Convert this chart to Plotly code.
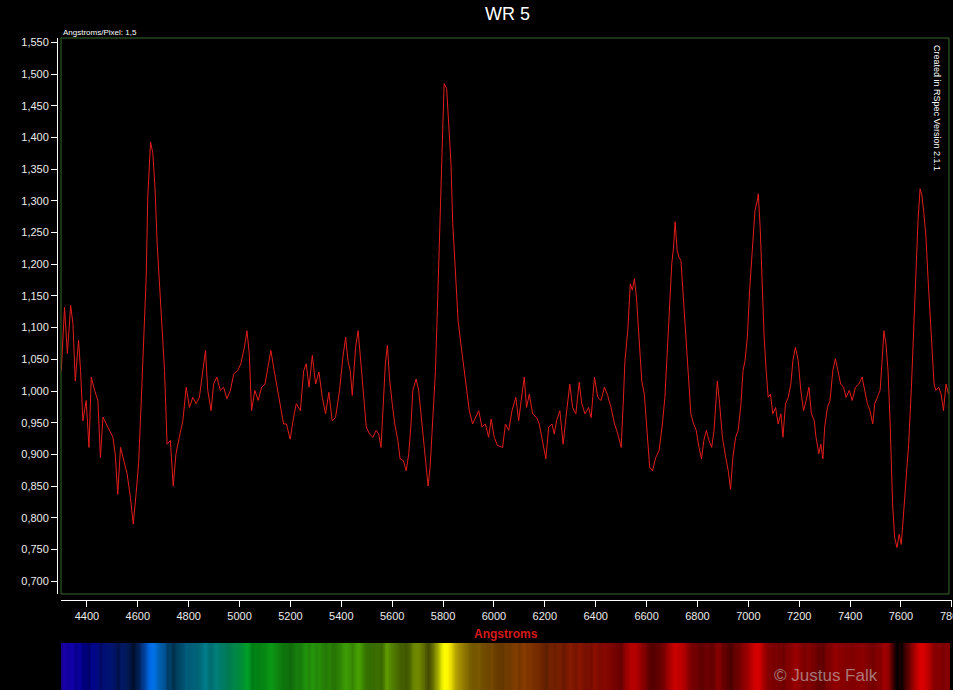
import numpy as np
import plotly.graph_objects as go

# WR 5 spectrum (wavelength in Angstrom, relative flux)
wavelength = [
    4299, 4312, 4323, 4336, 4345, 4354, 4367, 4375, 4384, 4397, 4408, 4417, 4430, 4443, 4453, 4463,
    4476, 4489, 4502, 4511, 4521, 4532, 4545, 4558, 4571, 4582, 4593, 4603, 4613, 4623, 4633, 4639,
    4650, 4659, 4668, 4676, 4685, 4694, 4705, 4715, 4728, 4739, 4750, 4763, 4777, 4790, 4803, 4816,
    4829, 4842, 4855, 4866, 4875, 4888, 4898, 4911, 4924, 4937, 4950, 4964, 4977, 4992, 5005, 5019,
    5029, 5038, 5047, 5060, 5073, 5087, 5100, 5113, 5123, 5136, 5149, 5160, 5173, 5184, 5199, 5212,
    5223, 5239, 5252, 5262, 5273, 5286, 5299, 5312, 5325, 5338, 5351, 5364, 5377, 5393, 5406, 5417,
    5426, 5435, 5443, 5456, 5466, 5477, 5487, 5498, 5511, 5524, 5537, 5547, 5556, 5566, 5573, 5581,
    5589, 5600, 5610, 5622, 5631, 5644, 5655, 5665, 5674, 5681, 5694, 5704, 5713, 5723, 5730, 5741,
    5749, 5759, 5770, 5779, 5788, 5796, 5804, 5814, 5822, 5831, 5838, 5848, 5859, 5870, 5883, 5893,
    5903, 5916, 5929, 5940, 5953, 5966, 5979, 5989, 6001, 6014, 6034, 6045, 6058, 6071, 6086, 6097,
    6107, 6119, 6128, 6139, 6152, 6168, 6178, 6191, 6204, 6215, 6228, 6237, 6246, 6259, 6272, 6283,
    6298, 6309, 6322, 6335, 6345, 6358, 6372, 6382, 6395, 6408, 6421, 6434, 6447, 6460, 6474, 6487,
    6500, 6508, 6515, 6526, 6536, 6544, 6552, 6560, 6570, 6581, 6591, 6602, 6612, 6623, 6636, 6649,
    6662, 6672, 6682, 6691, 6699, 6706, 6712, 6720, 6727, 6735, 6743, 6751, 6759, 6767, 6774, 6785,
    6795, 6806, 6816, 6825, 6835, 6845, 6856, 6865, 6878, 6887, 6898, 6911, 6921, 6930, 6939, 6950,
    6960, 6971, 6979, 6987, 6996, 7005, 7015, 7026, 7034, 7039, 7047, 7055, 7062, 7070, 7078, 7087,
    7096, 7107, 7117, 7128, 7136, 7146, 7157, 7167, 7175, 7185, 7196, 7206, 7217, 7227, 7238, 7248,
    7259, 7266, 7277, 7285, 7293, 7300, 7311, 7321, 7332, 7342, 7353, 7363, 7374, 7384, 7397, 7408,
    7421, 7434, 7447, 7457, 7468, 7478, 7489, 7497, 7507, 7518, 7525, 7533, 7541, 7549, 7557, 7562,
    7567, 7575, 7584, 7593, 7601, 7610, 7620, 7630, 7641, 7650, 7659, 7667, 7675, 7682, 7690, 7698,
    7706, 7714, 7722, 7730, 7737, 7748, 7758, 7767, 7777, 7787,
]
flux = [
    1.032, 1.132, 1.059, 1.135, 1.106, 1.016, 1.080, 1.032, 0.953, 0.985, 0.911, 1.022, 1.001, 0.985, 0.895, 0.959,
    0.948, 0.938, 0.927, 0.901, 0.837, 0.911, 0.890, 0.869, 0.832, 0.790, 0.837, 0.885, 0.980, 1.069, 1.180, 1.306,
    1.393, 1.375, 1.317, 1.232, 1.164, 1.106, 1.032, 0.916, 0.922, 0.850, 0.901, 0.927, 0.953, 1.006, 0.974, 0.990,
    0.980, 0.990, 1.032, 1.064, 1.001, 0.969, 1.011, 1.022, 1.001, 1.006, 0.988, 1.001, 1.027, 1.032, 1.043, 1.069,
    1.095, 1.059, 0.969, 1.001, 0.985, 1.006, 1.011, 1.043, 1.064, 1.032, 1.001, 0.974, 0.948, 0.948, 0.924, 0.958,
    0.980, 0.969, 1.032, 1.043, 1.006, 1.056, 1.011, 1.030, 0.990, 0.964, 0.998, 0.953, 0.958, 1.001, 1.053, 1.085,
    1.048, 1.032, 0.993, 1.069, 1.095, 1.043, 0.990, 0.943, 0.932, 0.927, 0.938, 0.932, 0.911, 0.980, 1.043, 1.072,
    1.022, 0.980, 0.948, 0.922, 0.893, 0.890, 0.874, 0.901, 0.948, 1.001, 1.019, 1.001, 0.964, 0.922, 0.890, 0.850,
    0.880, 0.948, 1.032, 1.148, 1.285, 1.401, 1.485, 1.477, 1.427, 1.359, 1.264, 1.180, 1.111, 1.074, 1.032, 1.006,
    0.969, 0.948, 0.958, 0.969, 0.943, 0.948, 0.927, 0.956, 0.927, 0.914, 0.911, 0.948, 0.938, 0.969, 0.990, 0.953,
    0.985, 1.022, 0.974, 0.995, 0.964, 0.958, 0.948, 0.922, 0.893, 0.943, 0.948, 0.932, 0.953, 0.969, 0.916, 0.958,
    1.011, 0.974, 0.964, 1.014, 0.980, 0.964, 0.974, 0.958, 1.022, 0.990, 0.985, 1.006, 0.993, 0.974, 0.948, 0.932,
    0.911, 0.980, 1.048, 1.095, 1.169, 1.159, 1.177, 1.148, 1.085, 1.016, 0.995, 0.927, 0.880, 0.874, 0.895, 0.906,
    0.948, 0.990, 1.069, 1.138, 1.201, 1.227, 1.267, 1.222, 1.211, 1.206, 1.159, 1.111, 1.053, 1.006, 0.964, 0.948,
    0.938, 0.911, 0.893, 0.922, 0.938, 0.922, 0.911, 0.938, 1.016, 0.980, 0.927, 0.895, 0.874, 0.845, 0.895, 0.927,
    0.938, 0.980, 1.032, 1.048, 1.085, 1.159, 1.217, 1.285, 1.298, 1.311, 1.253, 1.164, 1.085, 1.032, 0.990, 0.995,
    0.964, 0.974, 0.948, 0.964, 0.927, 0.980, 0.990, 1.011, 1.048, 1.069, 1.048, 1.001, 0.969, 0.985, 1.006, 0.964,
    0.953, 0.927, 0.901, 0.916, 0.893, 0.943, 0.974, 0.985, 1.032, 1.051, 1.027, 1.011, 1.006, 0.990, 1.001, 0.985,
    1.006, 1.011, 1.022, 1.001, 0.980, 0.969, 0.948, 0.980, 0.990, 1.001, 1.043, 1.095, 1.074, 1.032, 0.953, 0.874,
    0.822, 0.769, 0.753, 0.774, 0.758, 0.806, 0.858, 0.916, 1.006, 1.106, 1.190, 1.269, 1.319, 1.309, 1.280, 1.243,
    1.180, 1.122, 1.059, 1.011, 1.001, 1.006, 0.995, 0.969, 1.011, 0.995,
]
y_ticks = [0.70, 0.75, 0.80, 0.85, 0.90, 0.95, 1.00, 1.05, 1.10, 1.15, 1.20, 1.25, 1.30, 1.35, 1.40, 1.45, 1.50, 1.55]
x_ticks = [4400, 4600, 4800, 5000, 5200, 5400, 5600, 5800, 6000, 6200, 6400, 6600, 6800, 7000, 7200, 7400, 7600, 7800]

W, H = 953, 690
fx = lambda px: px / W
fy = lambda py: (H - py) / (H - 38)

# synthetic colour strip: hue from wavelength, brightness from flux
hue_wl = [4300, 4400, 4650, 4900, 5050, 5500, 5800, 6000, 6300, 6500, 7800]
hue_rgb = [(40, 0, 255), (0, 0, 255), (0, 120, 255), (0, 230, 230), (0, 255, 40), (120, 255, 0),
           (255, 255, 0), (255, 150, 0), (255, 50, 0), (255, 0, 0), (255, 0, 0)]
wl = np.array(wavelength, dtype=float)
fl = np.array(flux)
bright = np.clip((fl - fl.min()) / (fl.max() - fl.min()), 0, 1) ** 0.6
cols = []
for i in range(len(wl)):
    rgb = [np.interp(wl[i], hue_wl, [c[k] for c in hue_rgb]) * bright[i] for k in range(3)]
    cols.append('rgb(%d,%d,%d)' % tuple(int(v) for v in rgb))
n = len(cols)
cscale = [[i / (n - 1), cols[i]] for i in range(n)]
idx = list(range(n))

fig = go.Figure()
fig.add_trace(go.Scatter(x=wavelength, y=flux, mode='lines',
                         line=dict(color='rgb(228,28,28)', width=1), hoverinfo='skip'))
fig.add_trace(go.Heatmap(x=wavelength, y=[0, 1], z=[idx, idx], colorscale=cscale, zsmooth='best',
                         showscale=False, xaxis='x2', yaxis='y2', hoverinfo='skip'))

tickfont = dict(family='Liberation Sans, Arial', size=11, color='rgb(235,235,235)')
fig.update_layout(
    width=W, height=H,
    margin=dict(l=0, r=0, t=38, b=0),
    paper_bgcolor='black', plot_bgcolor='black',
    separators=',.',
    showlegend=False,
    xaxis=dict(domain=[fx(61), fx(952)], range=[4298, 7800.5], anchor='free', position=fy(600),
               tickvals=x_ticks, ticks='outside', ticklen=6, tickcolor='white',
               showline=True, linecolor='white', linewidth=1, showgrid=False, zeroline=False,
               tickfont=tickfont),
    yaxis=dict(domain=[fy(594), 1], range=[0.6798, 1.5568], anchor='free', position=fx(57),
               tickvals=y_ticks, tickformat='.3f', ticks='outside', ticklen=6, tickcolor='white',
               showline=True, linecolor='white', linewidth=1, showgrid=False, zeroline=False,
               tickfont=tickfont),
    xaxis2=dict(domain=[fx(61), fx(952)], range=[4298, 7800.5], anchor='y2', visible=False),
    yaxis2=dict(domain=[0, fy(643)], range=[0, 1], anchor='x2', visible=False),
    shapes=[dict(type='rect', xref='paper', yref='paper', x0=fx(61), x1=fx(949), y0=fy(594), y1=1,
                 line=dict(color='rgb(55,105,45)', width=1))],
    annotations=[
        dict(text='WR 5', x=fx(507), y=fy(14), xref='paper', yref='paper', showarrow=False,
             yanchor='middle', font=dict(family='Liberation Sans, Arial', size=18, color='white')),
        dict(text='<b>Angstroms</b>', x=fx(506), y=fy(634), xref='paper', yref='paper', showarrow=False,
             yanchor='middle', font=dict(family='Liberation Sans, Arial', size=12, color='rgb(215,25,25)')),
        dict(text='Angstroms/Pixel: 1,5', x=fx(61), y=fy(32), xref='paper', yref='paper',
             xanchor='left', yanchor='middle', showarrow=False,
             font=dict(family='Liberation Sans, Arial', size=8, color='white')),
        dict(text='Created in RSpec Version 2.1.1', x=fx(944), y=fy(108), xref='paper', yref='paper',
             textangle=90, showarrow=False, yanchor='middle',
             font=dict(family='Liberation Sans, Arial', size=9, color='white')),
        dict(text='© Justus Falk', x=fx(880), y=fy(675), xref='paper', yref='paper', showarrow=False,
             yanchor='middle',
             font=dict(family='Liberation Sans, Arial', size=17, color='rgba(200,200,200,0.6)')),
        # last x tick label, cut by the page edge as in the original
        dict(text=str(x_ticks[-1]), x=x_ticks[-1], y=fy(616), xref='x', yref='paper', showarrow=False,
             yanchor='middle', font=tickfont),
    ],
)

fig.write_html("out.html", config={'displayModeBar': False},
               post_script="document.body.style.margin='0';document.body.style.overflow='hidden';")
